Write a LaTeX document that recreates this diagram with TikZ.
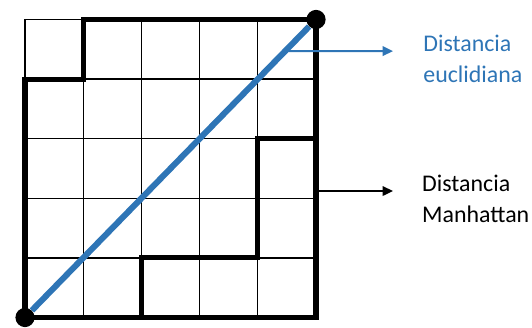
\documentclass[tikz,border=0pt]{standalone}
\usepackage{fontspec}
\setmainfont{Carlito}
\usepackage{xcolor}
\definecolor{eublue}{RGB}{46,117,182}
\usetikzlibrary{arrows.meta,positioning,calc}

\tikzset{
  gridline/.style={line width=0.9pt,black},
  pathline/.style={line width=3.6pt,black,line join=miter},
  enddot/.style={circle,fill=black,inner sep=0pt,minimum size=0.48cm},
  labeltext/.style={font=\fontsize{17}{21.5}\selectfont,align=left,anchor=base west,inner sep=0pt}
}

\begin{document}
\begin{tikzpicture}[x=1.455cm,y=1.49cm]
  \useasboundingbox (-0.4296,-0.1594) rectangle (8.711,5.327);

  %% 5x5 grid
  \foreach \k in {0,...,5} {
    \draw[gridline] (\k,0) -- (\k,5);
    \draw[gridline] (0,\k) -- (5,\k);
  }

  %% Manhattan paths
  \draw[pathline] (0,0) -- (0,4) -- (1,4) -- (1,5) -- (5,5) -- (5,0) -- cycle;
  \draw[pathline] (2,0) -- (2,1) -- (4,1) -- (4,3) -- (5,3);

  %% end points and Euclidean distance
  \node[enddot] (start) at (0,0) {};
  \node[enddot] (goal) at (5,5) {};
  \draw[eublue,line width=4.3pt] (start) -- (goal);
  \coordinate (eupoint) at ($(start.center)!0.894!(goal.center)$);

  %% labels (base = last line)
  \node[labeltext,text=eublue] (eulabel) at (6.84,3.951) {Distancia\\euclidiana};
  \node[labeltext,text=black] (mhlabel) at (6.82,1.602) {Distancia\\Manhattan};

  \coordinate (mhpoint) at (5,2.122);
  \coordinate (eutip) at (6.323,4.47);
  \coordinate (mhtip) at (6.323,2.122);
  \draw[eublue,line width=1.4pt,-{Triangle[length=0.26cm,width=0.24cm]}]
        (eupoint) -- (eutip);
  \draw[black,line width=1.1pt,-{Triangle[length=0.26cm,width=0.24cm]}]
        (mhpoint) -- (mhtip);
\end{tikzpicture}
\end{document}
